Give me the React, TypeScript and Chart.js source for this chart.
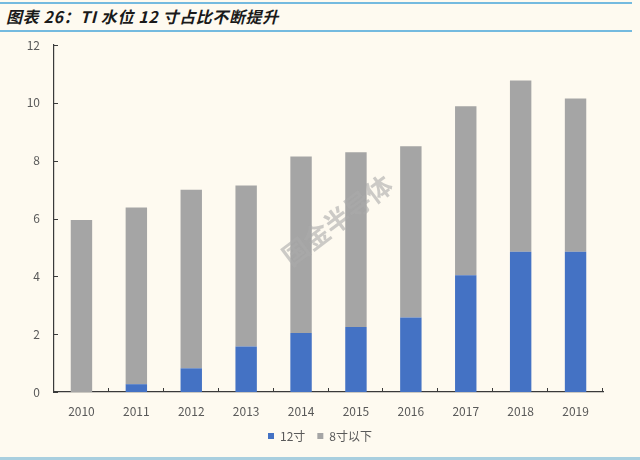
import React, { useEffect, useRef } from "react";
import { Chart, registerables } from "chart.js";

Chart.register(...registerables);

const years = ["2010", "2011", "2012", "2013", "2014", "2015", "2016", "2017", "2018", "2019"];
const inch12 = [0, 0.27, 0.82, 1.57, 2.04, 2.25, 2.58, 4.04, 4.85, 4.85];
const inch8Below = [5.95, 6.11, 6.17, 5.57, 6.1, 6.04, 5.92, 5.84, 5.92, 5.3];
const seriesNames = ["12寸", "8寸以下"];
const yMin = 0;
const yMax = 12;
const yStep = 2;
const titleText = "图表 26：TI 水位 12 寸占比不断提升";
const watermarkText = "国金半导体";

const FONT = "'Noto Sans CJK SC', 'Noto Sans', sans-serif";
const BG = "#FEFAF0";
const AXIS = "#3a3a3a";
const LABEL = "#595959";

const innerTicks = {
  id: "innerTicks",
  afterDraw(chart: any) {
    const { ctx, chartArea } = chart;
    const xs = chart.scales.x;
    const ys = chart.scales.y;
    ctx.save();
    ctx.strokeStyle = AXIS;
    ctx.lineWidth = 1;
    ctx.beginPath();
    const n = years.length;
    for (let i = 1; i <= n; i++) {
      const px =
        i < n
          ? (xs.getPixelForValue(i - 1) + xs.getPixelForValue(i)) / 2
          : xs.right;
      const x = Math.round(px) - 0.5;
      ctx.moveTo(x, chartArea.bottom);
      ctx.lineTo(x, chartArea.bottom - 4);
    }
    ys.ticks.forEach((t: any) => {
      const y = Math.round(ys.getPixelForValue(t.value)) + 0.5;
      ctx.moveTo(chartArea.left, y);
      ctx.lineTo(chartArea.left + 4, y);
    });
    ctx.stroke();
    ctx.restore();
  },
};

const watermark = {
  id: "watermark",
  afterDatasetsDraw(chart: any) {
    const { ctx, chartArea } = chart;
    const cx = chartArea.left + (chartArea.right - chartArea.left) * 0.516;
    const cy = chartArea.top + (chartArea.bottom - chartArea.top) * 0.505;
    ctx.save();
    ctx.translate(cx, cy);
    ctx.rotate((-37 * Math.PI) / 180);
    ctx.font = `bold 26px ${FONT}`;
    ctx.textAlign = "center";
    ctx.textBaseline = "middle";
    ctx.fillStyle = "rgba(170,170,170,0.6)";
    ctx.fillText(watermarkText, 0, 0);
    ctx.restore();
  },
};

export default function App() {
  const ref = useRef<HTMLCanvasElement | null>(null);

  useEffect(() => {
    if (!ref.current) return;
    const chart = new Chart(ref.current, {
      type: "bar",
      data: {
        labels: years,
        datasets: [
          {
            label: seriesNames[0],
            data: inch12,
            backgroundColor: "#4472C4",
            barPercentage: 0.39,
            categoryPercentage: 1,
          },
          {
            label: seriesNames[1],
            data: inch8Below,
            backgroundColor: "#A5A5A5",
            barPercentage: 0.39,
            categoryPercentage: 1,
          },
        ],
      },
      options: {
        animation: false,
        responsive: false,
        maintainAspectRatio: false,
        layout: { padding: { top: 45, left: 0, right: 0, bottom: 8 } },
        plugins: {
          legend: {
            position: "bottom",
            labels: {
              boxWidth: 6,
              boxHeight: 6,
              padding: 12,
              color: LABEL,
              font: { size: 12, family: FONT },
            },
          },
          tooltip: { enabled: false },
        },
        scales: {
          x: {
            stacked: true,
            grid: { display: false, drawTicks: false },
            border: { display: true, color: AXIS, width: 1.2 },
            ticks: { color: LABEL, font: { size: 12, family: FONT }, padding: 12 },
            afterFit: (s: any) => {
              s.height = 26;
            },
          },
          y: {
            stacked: true,
            min: yMin,
            max: yMax,
            grid: { display: false, drawTicks: false },
            border: { display: true, color: AXIS, width: 1.2 },
            ticks: {
              stepSize: yStep,
              color: LABEL,
              font: { size: 12, family: FONT },
              padding: 14,
            },
            afterFit: (s: any) => {
              s.width = 54;
            },
          },
          yRight: {
            position: "right",
            min: yMin,
            max: yMax,
            grid: { display: false, drawTicks: false },
            border: { display: false },
            ticks: { display: false },
            afterFit: (s: any) => {
              s.width = 37;
            },
          },
        },
      },
      plugins: [innerTicks, watermark],
    });
    return () => chart.destroy();
  }, []);

  return (
    <div
      style={{
        position: "fixed",
        left: 0,
        top: 0,
        width: 640,
        height: 460,
        background: BG,
        overflow: "hidden",
      }}
    >
      <div style={{ position: "absolute", left: 0, top: 2, width: 632, height: 2, background: "#74BADF" }} />
      <div
        style={{
          position: "absolute",
          left: 6,
          top: 4,
          height: 24,
          lineHeight: "24px",
          fontFamily: FONT,
          fontWeight: 700,
          fontStyle: "italic",
          fontSize: 16,
          letterSpacing: "0.6px",
          color: "#1a1a1a",
          whiteSpace: "pre",
        }}
      >
        {titleText}
      </div>
      <div style={{ position: "absolute", left: 0, top: 30, width: 632, height: 2, background: "#74BADF" }} />
      <canvas ref={ref} width={640} height={460} style={{ position: "absolute", left: 0, top: 0 }} />
      <div style={{ position: "absolute", left: 0, top: 457, width: 640, height: 3, background: "#A9CFDF" }} />
    </div>
  );
}
